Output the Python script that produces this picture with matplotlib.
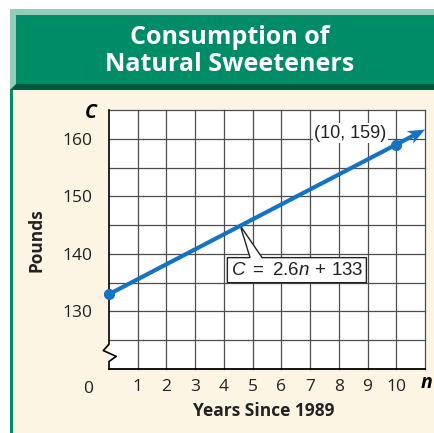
import numpy as np
import matplotlib
matplotlib.use("Agg")
import matplotlib.pyplot as plt
from matplotlib.patches import Rectangle, Polygon

plt.rcParams["font.family"] = ["Open Sans", "DejaVu Sans"]
plt.rcParams["mathtext.fontset"] = "custom"
plt.rcParams["mathtext.rm"] = "Liberation Sans"
plt.rcParams["mathtext.it"] = "Liberation Sans:italic"

# model: C = 2.6n + 133
slope = 2.6
intercept = 133
marked_n = [0, 10]
marked_c = [133, 159]
n_end = 11

x_ticks = [1, 2, 3, 4, 5, 6, 7, 8, 9, 10]
y_ticks = [130, 140, 150, 160]

GREEN = "#008c66"
GREEN_DARK = "#005a3d"
GREEN_LIGHT = "#93cdb9"
CREAM = "#fcf5e4"
BLUE = "#1473c2"
GRID = "#4d4d4d"

fig = plt.figure(figsize=(4.35, 4.33), dpi=100)

# page furniture in pixel coordinates
bg = fig.add_axes([0, 0, 1, 1])
bg.set_xlim(0, 435)
bg.set_ylim(433, 0)
bg.axis("off")
bg.add_patch(Rectangle((10, 88), 425, 345, color=CREAM, lw=0))
bg.add_patch(Rectangle((10, 88), 3, 345, color=GREEN, lw=0))
bg.add_patch(Rectangle((10, 9), 425, 80, color=GREEN_LIGHT, lw=0))
bg.add_patch(Polygon([(16, 15), (435, 15), (435, 84), (16, 84)], color=GREEN, lw=0))
bg.add_patch(Polygon([(16, 84), (435, 84), (435, 90), (10, 90)], color=GREEN_DARK, lw=0))
bg.text(230, 51, "Consumption of\nNatural Sweeteners", color="white", fontsize=18,
        fontweight="bold", ha="center", va="center", linespacing=1.12)

ax = fig.add_axes([109 / 435, 64 / 433, 316 / 435, 259 / 433])
ax.set_xlim(0, 11)
ax.set_ylim(120, 165)
ax.set_facecolor("white")
for s in ax.spines.values():
    s.set_visible(False)

# grid
for x in range(1, 12):
    ax.plot([x, x], [120, 165], color=GRID, lw=0.9, zorder=1, clip_on=False)
for y in np.arange(125, 166, 5):
    ax.plot([0, 11], [y, y], color=GRID, lw=0.9, zorder=1, clip_on=False)

# axes lines with the break on C
ax.plot([0, 11], [120, 120], color="black", lw=1.3, zorder=2, clip_on=False)
ax.plot([0, 0, -0.2, 0.25, 0, 0], [165, 124.3, 123.2, 122.2, 121.3, 120],
        color="black", lw=1.2, zorder=2, clip_on=False)

ax.set_xticks(x_ticks)
ax.set_xticklabels([str(v) for v in x_ticks])
ax.set_yticks(y_ticks)
ax.set_yticklabels([str(v) for v in y_ticks])
ax.tick_params(length=0, labelsize=12.5, colors="#222222")
ax.tick_params(axis="x", pad=7)
ax.tick_params(axis="y", pad=12)
ax.text(-0.73, 116.6, "0", fontsize=12.5, color="#222222", ha="center", va="center",
        clip_on=False)
ax.text(-0.62, 164.4, "C", fontsize=14, fontweight="bold", style="italic",
        ha="center", va="center", clip_on=False)
ax.text(11.05, 117.6, "n", fontsize=14, fontweight="bold", style="italic",
        ha="center", va="center", clip_on=False)

fig.text(37 / 435, 1 - 240 / 433, "Pounds", rotation=90, fontsize=12.5,
         fontweight="bold", ha="center", va="center", color="#222222")
fig.text(264 / 435, 1 - 411 / 433, "Years Since 1989", fontsize=12.5,
         fontweight="bold", ha="center", va="center", color="#222222")

# the line with an arrowhead at n = 11
line_n = np.array([0, n_end - 0.35])
ax.plot(line_n, slope * line_n + intercept, color=BLUE, lw=3, zorder=4,
        solid_capstyle="butt", clip_on=False)
ax.plot(marked_n, marked_c, "o", color=BLUE, ms=7, zorder=5, clip_on=False)

tip = ax.transData.transform((n_end, slope * n_end + intercept))
back = ax.transData.transform((n_end - 1, slope * (n_end - 1) + intercept))
d = (tip - back) / np.hypot(*(tip - back))
p = np.array([-d[1], d[0]])
head = [tip, tip - 17 * d + 7 * p, tip - 12 * d, tip - 17 * d - 7 * p]
head = ax.transData.inverted().transform(head)
ax.add_patch(Polygon(head, closed=True, color=BLUE, lw=0, zorder=5, clip_on=False))

# callout box for the equation
tip_n = 4.57
callout = [(4.12, 139.35), (4.91, 139.35), (tip_n, slope * tip_n + intercept),
           (5.33, 139.35), (8.96, 139.35), (8.96, 135.0), (4.12, 135.0)]
ax.add_patch(Polygon(callout, closed=True, facecolor="white", edgecolor="#222222",
                     lw=1.0, zorder=3))
ax.text(6.54, 137.15, r"$C\ =\ 2.6n\,+\,133$", fontsize=13.5, ha="center", va="center",
        color="#222222", zorder=6)

ax.text(8.4, 161.0, "(10, 159)", family="Liberation Sans", fontsize=13,
        ha="center", va="center", color="#222222", zorder=3,
        bbox=dict(facecolor="white", edgecolor="none", pad=1))

fig.savefig("out.png", dpi=100)
